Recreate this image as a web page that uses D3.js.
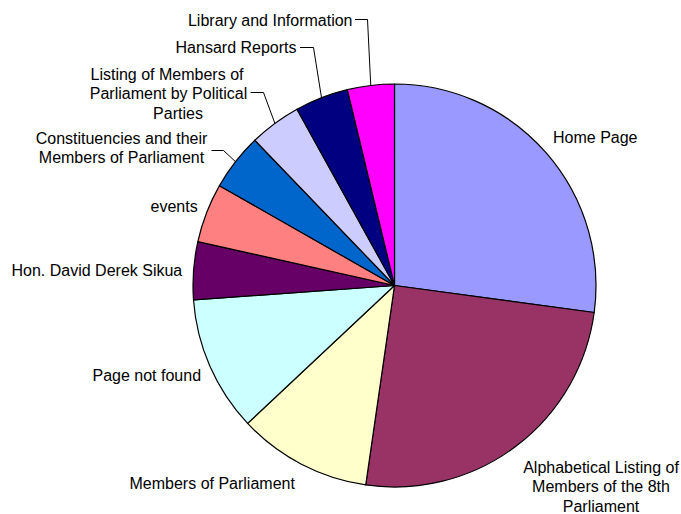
<!DOCTYPE html>
<html>
<head>
<meta charset="utf-8">
<script src="https://cdn.jsdelivr.net/npm/d3@7"></script>
<style>
  html, body { margin: 0; padding: 0; background: #fff; }
  svg { display: block; }
  text { font-family: "Liberation Sans", Arial, sans-serif; font-size: 16px; fill: #000; }
</style>
</head>
<body>
<svg id="chart" width="681" height="514"></svg>
<script>
// Page categories, clockwise from 12 o'clock
const categories = [
  "Home Page",
  "Alphabetical Listing of Members of the 8th Parliament",
  "Members of Parliament",
  "Page not found",
  "Hon. David Derek Sikua",
  "events",
  "Constituencies and their Members of Parliament",
  "Listing of Members of Parliament by Political Parties",
  "Hansard Reports",
  "Library and Information"
];
// Share of page views (%)
const shares = [27.14, 25.14, 10.72, 10.86, 4.64, 4.75, 4.56, 4.15, 4.28, 3.76];
const colors = ["#9999FF", "#993366", "#FFFFCC", "#CCFFFF", "#660066",
                "#FF8080", "#0066CC", "#CCCCFF", "#000080", "#FF00FF"];

// Label text as it wraps on screen
const labelLines = [
  ["Home Page"],
  ["Alphabetical Listing of", "Members of the 8th", "Parliament"],
  ["Members of Parliament"],
  ["Page not found"],
  ["Hon. David Derek Sikua"],
  ["events"],
  ["Constituencies and their", "Members of Parliament"],
  ["Listing of Members of", "Parliament by Political", "Parties"],
  ["Hansard Reports"],
  ["Library and Information"]
];

// Label placement: x, first baseline, anchor, per-line x shift, leader elbow (or null)
const labelLayout = [
  { x: 553, y: 142.5, anchor: "start" },
  { x: 601, y: 472.5, anchor: "middle" },
  { x: 129.5, y: 488.5, anchor: "start" },
  { x: 92.5, y: 380.5, anchor: "start" },
  { x: 11.5, y: 275.5, anchor: "start" },
  { x: 150.5, y: 211.5, anchor: "start" },
  { x: 121.5, y: 143.5, anchor: "middle", leader: { x0: 211.5, x1: 223.5, y: 150.5 } },
  { x: 167, y: 79.5, anchor: "middle", dx: [0, 1.5, 11], leader: { x0: 250.5, x1: 263.5, y: 92.5 } },
  { x: 296.5, y: 52.5, anchor: "end", leader: { x0: 300, x1: 313.5, y: 47.5 } },
  { x: 352.5, y: 25.5, anchor: "end", leader: { x0: 355, x1: 367.5, y: 19.5 } }
];

const lineHeight = 19.5;
const cx = 394.5, cy = 285.5, radius = 201.5;

const svg = d3.select("#chart");
const g = svg.append("g").attr("transform", `translate(${cx},${cy})`);

const pie = d3.pie().sort(null).value(d => d.value);
const arc = d3.arc().innerRadius(0).outerRadius(radius);

const data = categories.map((c, i) => ({ name: c, value: shares[i], color: colors[i] }));
const arcs = pie(data);

g.selectAll("path.slice")
  .data(arcs)
  .enter().append("path")
  .attr("class", "slice")
  .attr("d", arc)
  .attr("fill", d => d.data.color)
  .attr("stroke", "#000")
  .attr("stroke-width", 1.2)
  .attr("stroke-linejoin", "round");

// Leader lines from the label elbow to the slice edge at its mid-angle
arcs.forEach((a, i) => {
  const L = labelLayout[i];
  if (!L.leader) return;
  const mid = (a.startAngle + a.endAngle) / 2;
  const ex = cx + radius * Math.sin(mid);
  const ey = cy - radius * Math.cos(mid);
  svg.append("polyline")
    .attr("points", `${L.leader.x0},${L.leader.y} ${L.leader.x1},${L.leader.y} ${ex},${ey}`)
    .attr("fill", "none")
    .attr("stroke", "#000")
    .attr("stroke-width", 1);
});

// Category labels
labelLines.forEach((lines, i) => {
  const L = labelLayout[i];
  const t = svg.append("text").attr("text-anchor", L.anchor);
  lines.forEach((ln, j) => {
    t.append("tspan")
      .attr("x", L.x + (L.dx ? L.dx[j] : 0))
      .attr("y", L.y + j * lineHeight)
      .text(ln);
  });
});
</script>
</body>
</html>
